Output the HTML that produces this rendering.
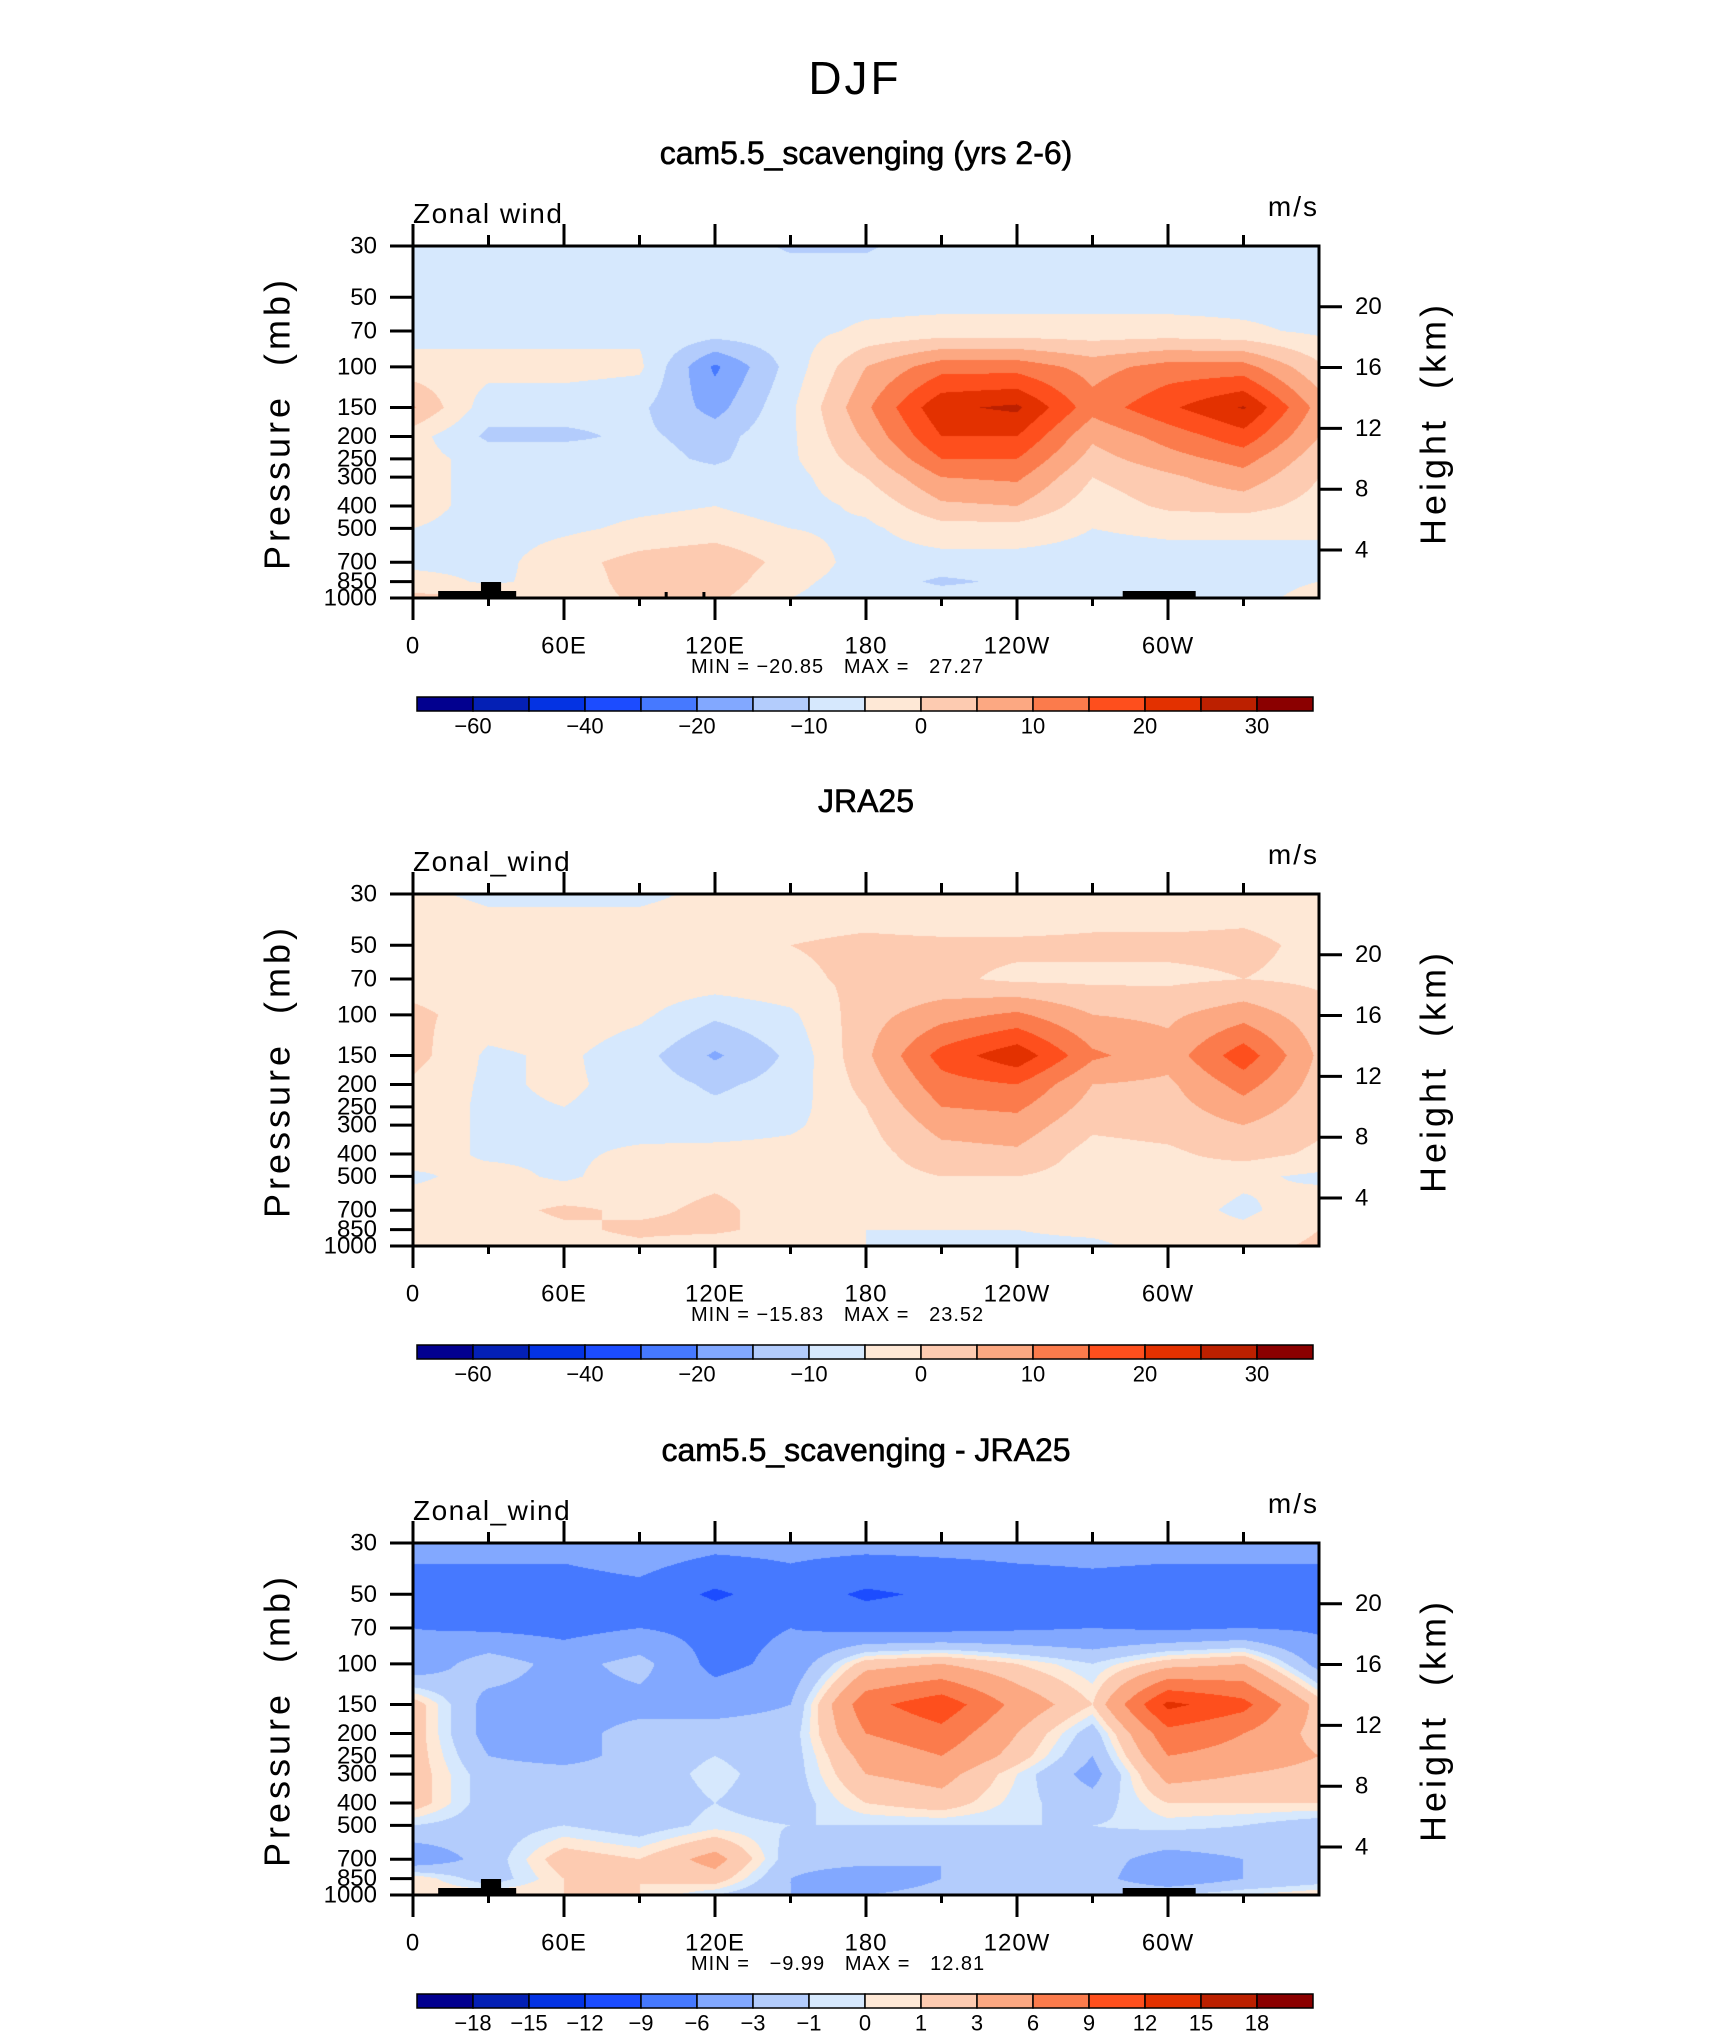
<!DOCTYPE html>
<html><head><meta charset="utf-8"><title>DJF Zonal wind</title>
<style>
html,body{margin:0;padding:0;background:#fff;}
#wrap{position:relative;width:1710px;height:2038px;overflow:hidden;}
canvas{position:absolute;}
svg{position:absolute;left:0;top:0;}
text{font-family:"Liberation Sans",sans-serif;fill:#000;white-space:pre;}
</style></head>
<body>
<div id="wrap"></div>
<script>
// ---- data ----
const lons=[0,30,60,90,120,150,180,210,240,270,300,330,360];
const plevs=[30,50,70,100,150,200,250,300,400,500,700,850,1000];
const modelU=[
[-7,-7,-7,-7,-8,-10.5,-10.5,-8,-7,-7,-7,-7,-7],
[-7,-7,-7,-7,-7,-7,-7,-7,-7,-7,-7,-7,-7],
[-7,-7,-7,-6,-7,-7,-4,-3,-3,-3,-3,-4,-6],
[-3,-3,-3,-4,-21,-8,5,13,13,8,12,12,1],
[5.5,-8,-8,-9,-17,-6,9,24,26,12,19,25.5,8],
[-3,-11,-11,-9,-12,-6,6,20,20,6,12,18,5],
[-3,-7,-7,-8,-11,-6,3,15,15,3,8,12,2],
[-3,-7,-7,-7,-8,-7,0,10,11,0,4,8,0],
[-3,-7,-7,-6,-5,-7,-4,4,5,-3,1,2,-2],
[-5,-7,-6,-4,-3,-5,-6,-2,-2,-5,-4,-4,-4],
[-7,-7,-2,2,4,-2,-7,-7,-7,-7,-7,-7,-7],
[-2,-6,-3,2,3,-4,-7,-11,-9,-7,-7,-7,-5],
[1,1,-3,1,1,-5,-7,-7,-7,-7,-6,-7,-3]];
const jraU=[
[-4,-6,-6,-6,-4,-3,-3,-5,-5,-3,-3,-2,-2],
[-1,-2,-2,-2,-2,0,1,1,1,1,1,1,-1],
[-2,-2,-2,-2,-2,-1,1,1,-1,-1,-1,0,-1],
[1,-2,-2,-4,-9,-6,3,8,11,5,4,8,2],
[2,-6,-4,-8,-15.8,-9,4,17,23.5,11,7,18,4],
[-1,-6,-4,-7,-11,-8,2,13,15,5,4,12,3],
[-2,-6,-5,-7,-9,-7,0,10,11,3,3,8,2],
[-2,-6,-6,-7,-8,-6,-1,7,8,1,2,5,1],
[-2,-6,-6,-4,-3,-3,-2,3,4,-2,-1,2,-1],
[-6,-3,-6,-2,-1,-2,-2,0,0,-2,-2,-4,-6],
[-2,-2,1,-1,1,-2,-3,-4,-4,-4,-3,-6,-2],
[-2,-3,-1,1,1,-2,-5,-5,-5,-4,-3,-4,0],
[-1,-2,-2,-1,-3,-3,-5,-6,-6,-6,-3,-2,1]];
const diffU=[
[-5,-5,-5,-4,-5,-5,-5,-5,-5,-5,-5,-5,-5],
[-7.5,-7.5,-7.5,-7,-9.5,-7.5,-9.5,-8.5,-7.5,-7,-7.5,-7.5,-7.5],
[-6,-6.5,-7,-6,-7,-6,-7,-7,-6.5,-6,-6.5,-6,-6.5],
[-5,-1.5,-4,-2,-7,-5,2,3,1,-1,2,3,-4],
[2,-4,-4,-4,-4,-3,8,11,5,1,12.8,10,2],
[2,-4,-4,-2,-2,-2,6,8,3,-2,8,6,2],
[2,-3,-4,-2,-1,-2,4,6,2,-3,6,5,3],
[2,-2,-2,-2,-0.5,-2,3,4,0,-4,4,3,2],
[2,-2,-2,-2,-1,-2,1,2,-0.5,-2,1,1,1],
[-1,-2,-1,-2,-0.5,-1,-1,-1,-1,-1,-0.5,-1,-2],
[-5,-2,2,1,4,-2,-2,-3,-2,-2,-4,-3,-2],
[1,-2,1,1,2,-3,-5,-3,-2,-2,-5,-3,-2],
[1,1,1,1,-1,-3,-3,-2,-1,-1,-1,0,1]];
const levelsAbs=[-60,-50,-40,-30,-20,-15,-10,-5,0,5,10,15,20,25,30];
const levelsDiff=[-18,-15,-12,-9,-6,-3,-1,0,1,3,6,9,12,15,18];
const labelsAbs=["","-60","","-40","","-20","","-10","","0","","10","","20","","30"];
const labelsDiff=["","-18","-15","-12","-9","-6","-3","-1","0","1","3","6","9","12","15","18"];
const pTicks=[30,50,70,100,150,200,250,300,400,500,700,850,1000];
const hTicks=[20,16,12,8,4];
const xTickLabels=["0","60E","120E","180","120W","60W"];
const titles=["cam5.5_scavenging (yrs 2-6)","JRA25","cam5.5_scavenging - JRA25"];
const varNames=["Zonal wind","Zonal_wind","Zonal_wind"];
const minMax=["MIN = \u221220.85   MAX =   27.27","MIN = \u221215.83   MAX =   23.52","MIN =   \u22129.99   MAX =   12.81"];
const colors=["#02008f","#0420b5","#0433e3","#1c4cff","#4679ff","#82a8ff","#b3ccfc","#d6e8fd","#fee8d6","#fdcbb1","#fca882","#fb7b4c","#fe4f1d","#e33100","#bc2000","#8b0000"];

// ---- layout ----
const PL=413, PW=906, PH=352;
const tops=[246,894,1543];
const NS="http://www.w3.org/2000/svg";
const wrap=document.getElementById('wrap');
const svg=document.createElementNS(NS,'svg');
svg.setAttribute('width','1710');svg.setAttribute('height','2038');


function xOf(lon){return PL+lon/360*PW;}
function yOf(p,top){return top+Math.log(p/30)/Math.log(1000/30)*PH;}
function el(tag,attrs,parent){const e=document.createElementNS(NS,tag);for(const k in attrs)e.setAttribute(k,attrs[k]);(parent||svg).appendChild(e);return e;}
function txt(s,x,y,size,anchor,parent,extra){const t=el('text',Object.assign({x:x,y:y,'font-size':size,'text-anchor':anchor||'middle','dominant-baseline':'central'},extra||{}),parent);t.textContent=s;return t;}

const dtitle=txt("DJF",855,78,46,'middle',svg,{'letter-spacing':'3'});



function drawField(data,levels,top,idx){
  const cv=document.createElement('canvas');
  cv.width=PW;cv.height=PH;cv.style.left=PL+'px';cv.style.top=top+'px';
  
  
  wrap.appendChild(cv);
  const ctx=cv.getContext('2d');
  const img=ctx.createImageData(PW,PH);
  const rgb=colors.map(c=>[parseInt(c.substr(1,2),16),parseInt(c.substr(3,2),16),parseInt(c.substr(5,2),16)]);
  const lp=plevs.map(p=>Math.log(p));
  for(let py=0;py<PH;py++){
    const L=Math.log(30)+(py+0.5)/PH*Math.log(1000/30);
    let i=0;while(i<lp.length-2&&L>lp[i+1])i++;
    const t=Math.min(1,Math.max(0,(L-lp[i])/(lp[i+1]-lp[i])));
    for(let px=0;px<PW;px++){
      const lon=(px+0.5)/PW*360;
      let j=Math.min(lons.length-2,Math.floor(lon/30));
      const u=(lon-lons[j])/(lons[j+1]-lons[j]);
      const v=(1-t)*((1-u)*data[i][j]+u*data[i][j+1])+t*((1-u)*data[i+1][j]+u*data[i+1][j+1]);
      let k=0;while(k<levels.length&&v>=levels[k])k++;
      const c=rgb[k];const o=(py*PW+px)*4;
      img.data[o]=c[0];img.data[o+1]=c[1];img.data[o+2]=c[2];img.data[o+3]=255;
    }
  }
  ctx.putImageData(img,0,0);
}

function drawPanel(n,data,levels,labels,topo){
  const top=tops[n], bot=top+PH;
  drawField(data,levels,top,n);
  const g=el('g',{});
  
  
  const tt=txt(titles[n],866,top-93,32,'middle',g,{stroke:'#000','stroke-width':'0.6'});
  
  
  const vn=txt(varNames[n],PL,top-23,28,'start',g,{'dominant-baseline':'alphabetic','letter-spacing':'1.5'});
  
  
  const un=txt("m/s",PL+PW,top-30,28,'end',g,{'dominant-baseline':'alphabetic','letter-spacing':'2'});
  
  
  if(topo){
    const tg=el('g',{fill:'#000'},g);
    
    
    el('rect',{x:xOf(10),y:bot-7,width:xOf(41)-xOf(10),height:7},tg);
    el('rect',{x:xOf(27),y:bot-16,width:xOf(35)-xOf(27),height:16},tg);
    el('rect',{x:xOf(282),y:bot-7,width:xOf(311)-xOf(282),height:7},tg);
    if(n===0){el('rect',{x:xOf(100),y:bot-6,width:3,height:6},tg);el('rect',{x:xOf(115),y:bot-6,width:3,height:6},tg);}
  }
  const fr=el('rect',{x:PL,y:top,width:PW,height:PH,fill:'none',stroke:'#000','stroke-width':3},g);
  
  
  pTicks.forEach(p=>{
    const y=yOf(p,top);
    el('line',{x1:PL-23,x2:PL,y1:y,y2:y,stroke:'#000','stroke-width':3},g);
    const l=txt(String(p),377,y,24,'end',g);
    
    
  });
  hTicks.forEach(h=>{
    const p=1137*Math.exp(-h/6.6);const y=yOf(p,top);
    el('line',{x1:PL+PW,x2:PL+PW+23,y1:y,y2:y,stroke:'#000','stroke-width':3},g);
    const l=txt(String(h),PL+PW+36,y,24,'start',g);
    
    
  });
  for(let lon=0;lon<360;lon+=30){
    const x=xOf(lon);const major=lon%60===0;
    el('line',{x1:x,x2:x,y1:top-(major?22:11),y2:top,stroke:'#000','stroke-width':3},g);
    el('line',{x1:x,x2:x,y1:bot,y2:bot+(major?22:8),stroke:'#000','stroke-width':3},g);
  }
  xTickLabels.forEach((s,i)=>{
    const l=txt(s,xOf(i*60),bot+48,24,'middle',g,{'letter-spacing':'1'});
    
    
  });
  const yt=txt("Pressure  (mb)",0,0,36,'middle',g,{transform:'translate(277,'+(top+177)+') rotate(-90)','letter-spacing':'4'});
  
  
  const yt2=txt("Height  (km)",0,0,36,'middle',g,{transform:'translate(1433,'+(top+177)+') rotate(-90)','letter-spacing':'4'});
  
  
  const mm=txt(minMax[n],691,bot+69,20,'start',g,{'letter-spacing':'1'});
  
  
  const cb=el('g',{},g);
  
  
  const cx0=417,bw=56,cy=bot+99;
  colors.forEach((c,i)=>{
    const r=el('rect',{x:cx0+i*bw,y:cy,width:bw,height:14,fill:c,stroke:'#000','stroke-width':1.5},cb);
    
    
  });
  labels.forEach((s,i)=>{
    if(!s)return;
    const l=txt(s.replace('-','\u2212'),cx0+i*bw,bot+128,22,'middle',cb);
    
    
  });
}
drawPanel(0,modelU,levelsAbs,labelsAbs,true);
drawPanel(1,jraU,levelsAbs,labelsAbs,false);
drawPanel(2,diffU,levelsDiff,labelsDiff,true);
wrap.appendChild(svg);
</script>
</body></html>
